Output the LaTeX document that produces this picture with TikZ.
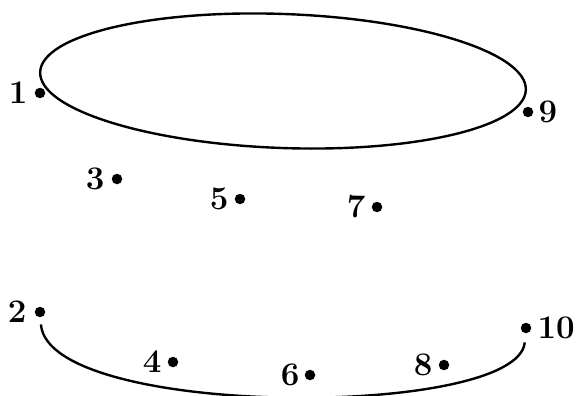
\documentclass[tikz,border=0pt]{standalone}
\usepackage{fontspec}
\usetikzlibrary{positioning}

\begin{document}
\begin{tikzpicture}[x=1pt,y=-1pt,
    every node/.style={font=\fontsize{33}{33}\selectfont\bfseries},
    dot/.style={circle,fill=black,inner sep=0pt,minimum size=10.5pt},
    num/.style={inner sep=0pt},
    line/.style={line width=2.4pt,black}]

  \useasboundingbox (0,0) rectangle (578,396);

  %% Upper ring
  \draw[line,rotate around={-2.1:(283,81)}] (283,81) ellipse [x radius=243,y radius=67];

  %% Dots, upper row
  \node[dot,label={[num,label distance=7pt]left:1}]   (d1)  at (40,93)  {};
  \node[dot,label={[num,label distance=5pt]right:9}]  (d9)  at (528,112) {};
  \node[dot,label={[num,label distance=7pt]left:3}]   (d3)  at (117,179) {};
  \node[dot,label={[num,label distance=6pt]left:5}]   (d5)  at (240,199) {};
  \node[dot,label={[num,label distance=6pt]left:7}]   (d7)  at (377,207) {};

  %% Dots, lower row
  \node[dot,label={[num,label distance=8pt]left:2}]   (d2)  at (40,312)  {};
  \node[dot,label={[num,label distance=6pt]right:10}] (d10) at (526,328) {};
  \node[dot,label={[num,label distance=6pt]left:4}]   (d4)  at (173,362) {};
  \node[dot,label={[num,label distance=5pt]left:6}]   (d6)  at (310,375) {};
  \node[dot,label={[num,label distance=6pt]left:8}]   (d8)  at (444,365) {};

  %% Lower arc
  \draw[line,shorten <=7pt,shorten >=9pt] (d2) .. controls (48,419) and (518,419) .. (d10);
\end{tikzpicture}
\end{document}
